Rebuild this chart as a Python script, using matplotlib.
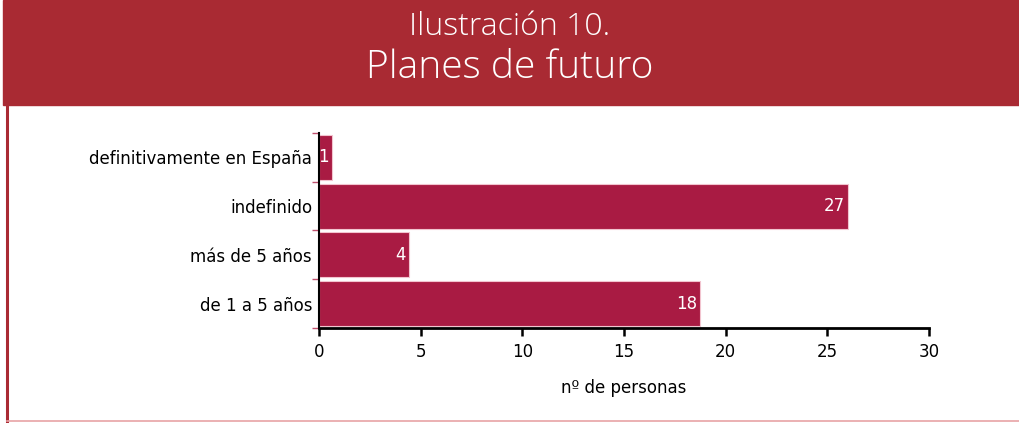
import matplotlib
matplotlib.use('Agg')
import matplotlib.pyplot as plt
from matplotlib.patches import Rectangle
from matplotlib.lines import Line2D

# Datos
categorias = ['de 1 a 5 años', 'más de 5 años', 'indefinido', 'definitivamente en España']
etiquetas_valor = [18, 4, 27, 1]
# longitud visible de cada barra (no coincide exactamente con la etiqueta)
longitud_barra = [18.74, 4.43, 26.02, 0.64]
ticks_x = [0, 5, 10, 15, 20, 25, 30]

ROJO_CABECERA = '#A92A33'
ROJO_BARRA = '#A91B43'
FUENTE = 'DejaVu Sans'

fig = plt.figure(figsize=(10.2, 4.23), dpi=100)

# Cabecera roja
fig.patches.append(Rectangle((3 / 1020, 1 - 105 / 423), 1, 105 / 423,
                             transform=fig.transFigure, color=ROJO_CABECERA, zorder=0))
fig.text(0.5, 1 - 35 / 423, 'Ilustración 10.', ha='center', va='baseline',
         color='white', fontsize=23, family='Open Sans', fontweight='light')
fig.text(0.5, 1 - 78 / 423, 'Planes de futuro', ha='center', va='baseline',
         color='white', fontsize=28, family='Open Sans', fontweight='light')

# Marco: línea izquierda y línea inferior
fig.lines.append(Line2D([7 / 1020, 7 / 1020], [1 - 105 / 423, 1 - 421 / 423],
                        transform=fig.transFigure, color=ROJO_CABECERA, lw=2.2))
fig.lines.append(Line2D([7 / 1020, 1], [1 - 421 / 423, 1 - 421 / 423],
                        transform=fig.transFigure, color='#E8A3A6', lw=1.2))

ax = fig.add_axes([319 / 1020, 1 - 328 / 423, 610 / 1020, 195 / 423])
y = range(len(categorias))
ax.barh(y, longitud_barra, height=0.92, color=ROJO_BARRA, edgecolor='#F2C4CF', linewidth=0.8)

for i, (v, l) in enumerate(zip(etiquetas_valor, longitud_barra)):
    ax.text(l - 0.15, i, str(v), ha='right', va='center', color='white',
            fontsize=12, family=FUENTE)

ax.set_xlim(0, 30)
ax.set_ylim(-0.5, 3.5)
ax.set_xticks(ticks_x)
ax.set_xticklabels([str(t) for t in ticks_x], fontsize=12, family=FUENTE)
ax.set_yticks(list(y))
ax.set_yticklabels(categorias, fontsize=12, family=FUENTE)
ax.set_yticks([-0.5, 0.5, 1.5, 2.5, 3.5], minor=True)
ax.tick_params(axis='y', which='major', length=0, pad=5)
ax.tick_params(axis='y', which='minor', length=5, color='#C0506E', width=1)
ax.tick_params(axis='x', length=6, width=1.8, direction='out', pad=5)
ax.set_xlabel('nº de personas', fontsize=12, family=FUENTE, labelpad=13)

for s in ['top', 'right']:
    ax.spines[s].set_visible(False)
ax.spines['bottom'].set_linewidth(2)
ax.spines['left'].set_linewidth(1.5)

fig.savefig('out.png', dpi=100)
